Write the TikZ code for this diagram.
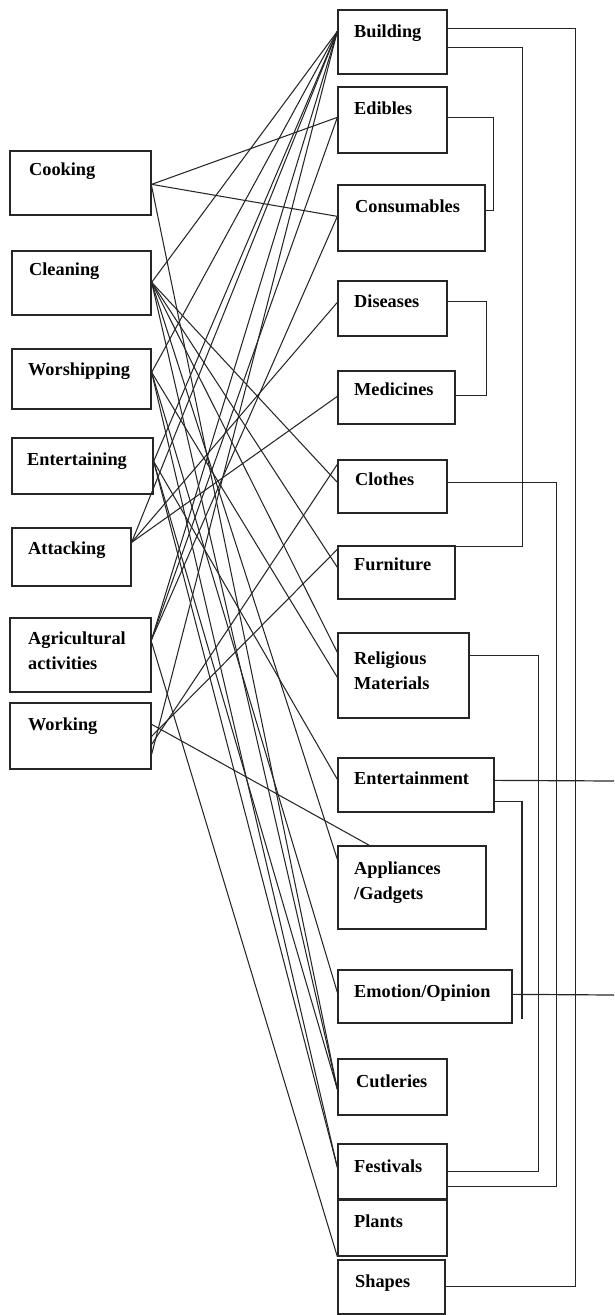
\documentclass[tikz,border=0pt]{standalone}
\usepackage{fontspec}
\setmainfont{Liberation Serif}
\usetikzlibrary{fit}
\begin{document}
\begin{tikzpicture}[x=1pt,y=-1pt,
  box/.style={draw=black!85, line width=1.3pt, inner sep=0pt},
  lbl/.style={anchor=north west, inner sep=0pt, align=left,
              font=\fontsize{18.3}{25}\selectfont\bfseries},
  link/.style={draw=black!85, line width=1.05pt},
  bracket/.style={draw=black!85, line width=1.2pt}]
\useasboundingbox (0,0) rectangle (614,1315);

% name, x1, y1, x2, y2, text x, text top, text
\newcommand\catbox[8]{%
  \path (#2,#3) coordinate (#1-a) (#4,#5) coordinate (#1-b);
  \node[box, fit=(#1-a)(#1-b)] (#1) {};
  \node[lbl] at (#6,#7) {#8};
}

% activities
\catbox{cook}{10}{151}{151}{215}{29}{163}{Cooking}
\catbox{clean}{12}{251}{151}{315}{29}{263}{Cleaning}
\catbox{worship}{12}{349}{151}{409}{28}{363}{Worshipping}
\catbox{enter}{12}{438}{153}{494}{27}{453}{Entertaining}
\catbox{attack}{12}{528}{131}{586}{28}{542}{Attacking}
\catbox{agri}{10}{618}{151}{692}{28}{632}{Agricultural\\activities}
\catbox{work}{10}{703}{151}{769}{28}{718}{Working}

% categories
\catbox{bldg}{338}{10}{447}{74}{354}{25}{Building}
\catbox{edib}{338}{87}{447}{153}{354}{102}{Edibles}
\catbox{cons}{338}{185}{485}{251}{355}{200}{Consumables}
\catbox{dise}{338}{281}{447}{336}{354}{295}{Diseases}
\catbox{medi}{338}{371}{455}{424}{354}{383}{Medicines}
\catbox{cloth}{338}{460}{447}{513}{355}{473}{Clothes}
\catbox{furn}{338}{546}{455}{599}{354}{558}{Furniture}
\catbox{relig}{338}{633}{469}{718}{354}{652}{Religious\\Materials}
\catbox{ent}{338}{758}{494}{812}{354}{772}{Entertainment}
\catbox{appl}{338}{846}{486}{929}{354}{862}{Appliances\\/Gadgets}
\catbox{emot}{338}{970}{512}{1023}{354}{985}{Emotion/Opinion}
\catbox{cutl}{338}{1059}{447}{1115}{356}{1075}{Cutleries}
\catbox{fest}{338}{1144}{447}{1199}{354}{1160}{Festivals}
\catbox{plant}{338}{1200}{447}{1256}{354}{1215}{Plants}
\catbox{shape}{338}{1260}{445}{1314}{355}{1275}{Shapes}

% ports on the activity boxes
\coordinate (cook-o)    at ([yshift=-34pt]cook.north east);
\coordinate (cook-o2)   at ([yshift=-36pt]cook.north east);
\coordinate (clean-o)   at ([yshift=-32pt]clean.north east);
\coordinate (worship-o) at ([yshift=-24pt]worship.north east);
\coordinate (enter-o)   at ([yshift=-24pt]enter.north east);
\coordinate (attack-o)  at ([yshift=-15pt]attack.north east);
\coordinate (agri-o)    at ([yshift=-22pt]agri.north east);
\coordinate (agri-o2)   at ([yshift=-25pt]agri.north east);
\coordinate (work-o1)   at ([yshift=-22pt]work.north east);
\coordinate (work-o2)   at ([yshift=-34pt]work.north east);
\coordinate (work-o3)   at ([yshift=-42pt]work.north east);
\coordinate (work-o4)   at ([yshift=-52pt]work.north east);

% ports on the category boxes
\coordinate (bldg-i)   at ([yshift=-22pt]bldg.north west);
\coordinate (edib-i)   at ([yshift=-31pt]edib.north west);
\coordinate (cons-i)   at ([yshift=-32pt]cons.north west);
\coordinate (dise-i)   at ([yshift=-22pt]dise.north west);
\coordinate (medi-i)   at ([yshift=-26pt]medi.north west);
\coordinate (cloth-i1) at ([yshift=-5pt]cloth.north west);
\coordinate (cloth-i2) at ([yshift=-23pt]cloth.north west);
\coordinate (furn-i1)  at ([yshift=-4pt]furn.north west);
\coordinate (furn-i2)  at ([yshift=-22pt]furn.north west);
\coordinate (relig-i1) at ([yshift=-20pt]relig.north west);
\coordinate (relig-i2) at ([yshift=-45pt]relig.north west);
\coordinate (ent-i)    at ([yshift=-22pt]ent.north west);
\coordinate (appl-i1)  at ([xshift=32pt]appl.north west);
\coordinate (appl-i2)  at ([yshift=-14pt]appl.north west);
\coordinate (emot-i)   at ([yshift=-23pt]emot.north west);
\coordinate (cutl-i)   at ([yshift=-31pt]cutl.north west);
\coordinate (fest-i)   at ([yshift=-24pt]fest.north west);

% activity -> category links
\draw[link] (cook-o) -- (edib-i);
\draw[link] (cook-o) -- (cons-i);
\draw[link] (cook-o2) -- (cutl-i);

\draw[link] (clean-o) -- (bldg-i);
\draw[link] (clean-o) -- (cloth-i2);
\draw[link] (clean-o) -- (furn-i2);
\draw[link] (clean-o) -- (relig-i1);
\draw[link] (clean-o) -- (appl-i2);
\draw[link] (clean-o) -- (cutl-i);

\draw[link] (worship-o) -- (bldg-i);
\draw[link] (worship-o) -- (relig-i2);
\draw[link] (worship-o) -- (fest-i);
\draw[link] (worship-o) -- (emot-i);

\draw[link] (enter-o) -- (bldg-i);
\draw[link] (enter-o) -- (ent-i);
\draw[link] (enter-o) -- (fest-i);
\draw[link] (enter-o) -- (cutl-i);

\draw[link] (attack-o) -- (bldg-i);
\draw[link] (attack-o) -- (dise-i);
\draw[link] (attack-o) -- (medi-i);

\draw[link] (agri-o) -- (bldg-i);
\draw[link] (agri-o) -- (edib-i);
\draw[link] (agri-o) -- (cons-i);
\draw[link] (agri-o2) -- (plant.south west);

\draw[link] (work-o1) -- (appl-i1);
\draw[link] (work-o2) -- (furn-i1);
\draw[link] (work-o3) -- (cloth-i1);
\draw[link] (work-o4) -- (bldg-i);

% category groupings on the right
\coordinate (ent-end)  at (614,781);
\coordinate (emot-end) at (614,995);
\coordinate (ent-drop) at (522,1019);
\draw[bracket] ([yshift=-19pt]bldg.north east) -- ++(128,0) |- ([yshift=-27pt]shape.north east);
\draw[bracket] ([yshift=-38pt]bldg.north east) -- ++(75,0) |- ([yshift=-1pt]furn.north east);
\draw[bracket] ([yshift=-31pt]edib.north east) -- ++(46,0) |- ([yshift=-26pt]cons.north east);
\draw[bracket] ([yshift=-21pt]dise.north east) -- ++(39,0) |- ([yshift=-25pt]medi.north east);
\draw[bracket] ([yshift=-23pt]cloth.north east) -- ++(109,0) |- ([yshift=-43pt]fest.north east);
\draw[bracket] ([yshift=-23pt]relig.north east) -- ++(69,0) |- ([yshift=-28pt]fest.north east);
\draw[bracket] ([yshift=-23pt]ent.north east) -- (ent-end);
\draw[bracket] ([yshift=-44pt]ent.north east) -| (ent-drop);
\draw[bracket] ([yshift=-25pt]emot.north east) -- (emot-end);
\end{tikzpicture}
\end{document}
